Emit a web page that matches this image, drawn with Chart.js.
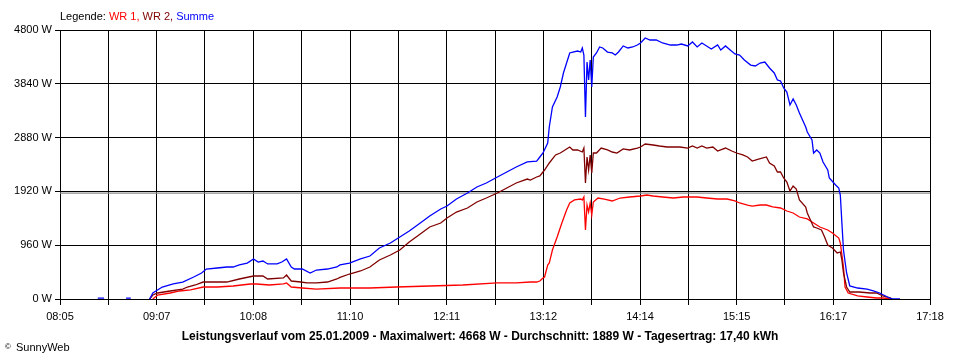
<!DOCTYPE html>
<html lang="de">
<head>
    <meta charset="UTF-8">
    <title>Leistungsverlauf 25.01.2009</title>
    <script src="https://cdn.jsdelivr.net/npm/chart.js"></script>
    <style>
        body {
            margin: 0;
            background: #fff;
        }
        canvas {
            display: block;
        }
    </style>
</head>
<body>
    <canvas id="powerChart" width="960" height="360"></canvas>

    <script>
        // x axis labels (every second grid line carries a label)
        const xTickLabels = ['08:05', '09:07', '10:08', '11:10', '12:11', '13:12', '14:14', '15:15', '16:17', '17:18'];
        const yMax = 4800;
        const yStep = 960;
        const avgValue = 1889;

        // WR 1
        const wr1Times = ['09:04', '09:07', '09:15', '09:21', '09:28', '09:36', '09:45', '09:55', '10:06', '10:10',
            '10:18', '10:27', '10:29', '10:32', '10:39', '10:48', '11:03', '11:09', '11:22', '11:39',
            '12:00', '12:21', '12:43', '12:55', '13:04', '13:08', '13:10', '13:12', '13:13', '13:15',
            '13:16', '13:18', '13:21', '13:24', '13:27', '13:29', '13:32', '13:36', '13:37', '13:38',
            '13:39', '13:40', '13:41', '13:42', '13:43', '13:44', '13:47', '13:51', '13:56', '14:01',
            '14:07', '14:14', '14:18', '14:22', '14:28', '14:35', '14:41', '14:45', '14:50', '14:56',
            '15:03', '15:09', '15:14', '15:17', '15:22', '15:25', '15:30', '15:34', '15:38', '15:43',
            '15:47', '15:51', '15:55', '16:00', '16:04', '16:08', '16:13', '16:16', '16:20', '16:21',
            '16:23', '16:24', '16:26', '16:32', '16:38', '16:44', '16:48', '16:53'];
        const wr1Watts = [0, 71, 107, 143, 161, 214, 214, 232, 268, 268,
            250, 268, 286, 214, 196, 178, 196, 196, 196, 214,
            232, 250, 286, 286, 303, 303, 321, 375, 393, 607,
            642, 874, 1106, 1356, 1588, 1713, 1767, 1784, 1767, 1820,
            1231, 1677, 1552, 1713, 1499, 1731, 1802, 1784, 1749, 1802,
            1820, 1838, 1856, 1838, 1820, 1802, 1820, 1820, 1820, 1802,
            1784, 1784, 1749, 1713, 1677, 1659, 1677, 1677, 1642, 1624,
            1570, 1535, 1463, 1428, 1356, 1285, 1231, 1178, 1088, 999,
            571, 214, 107, 54, 36, 18, 18, 0];

        // WR 2
        const wr2Times = ['09:02', '09:04', '09:07', '09:15', '09:23', '09:26', '09:31', '09:36', '09:42', '09:51',
            '09:59', '10:08', '10:14', '10:17', '10:27', '10:29', '10:32', '10:38', '10:42', '10:48',
            '10:55', '11:01', '11:03', '11:09', '11:16', '11:22', '11:28', '11:35', '11:41', '11:47',
            '11:54', '12:00', '12:07', '12:11', '12:17', '12:24', '12:30', '12:36', '12:43', '12:49',
            '12:55', '13:02', '13:04', '13:08', '13:10', '13:13', '13:16', '13:20', '13:23', '13:26',
            '13:29', '13:31', '13:34', '13:37', '13:38', '13:39', '13:40', '13:41', '13:42', '13:43',
            '13:44', '13:46', '13:49', '13:53', '13:56', '13:59', '14:03', '14:07', '14:12', '14:14',
            '14:17', '14:22', '14:26', '14:31', '14:35', '14:39', '14:44', '14:47', '14:50', '14:53',
            '14:56', '15:00', '15:03', '15:08', '15:12', '15:15', '15:19', '15:22', '15:25', '15:29',
            '15:34', '15:36', '15:39', '15:41', '15:43', '15:45', '15:47', '15:49', '15:51', '15:53',
            '15:55', '15:59', '16:00', '16:04', '16:06', '16:09', '16:11', '16:13', '16:16', '16:19',
            '16:21', '16:22', '16:23', '16:25', '16:27', '16:33', '16:40', '16:44', '16:48', '16:53',
            '16:54'];
        const wr2Watts = [0, 71, 107, 143, 178, 214, 250, 303, 303, 303,
            357, 410, 410, 357, 375, 428, 321, 303, 286, 286,
            303, 357, 385, 446, 500, 571, 696, 785, 874, 1017,
            1160, 1285, 1356, 1445, 1552, 1624, 1731, 1802, 1891, 1981,
            2070, 2141, 2123, 2177, 2195, 2302, 2427, 2570, 2605, 2659,
            2712, 2659, 2659, 2623, 2694, 2070, 2534, 2302, 2570, 2248,
            2605, 2605, 2694, 2659, 2623, 2605, 2677, 2659, 2694, 2712,
            2766, 2748, 2730, 2712, 2712, 2712, 2694, 2730, 2694, 2730,
            2694, 2712, 2641, 2694, 2641, 2605, 2570, 2534, 2462, 2498,
            2534, 2427, 2373, 2266, 2266, 2159, 2088, 1927, 2016, 1963,
            1767, 1642, 1535, 1285, 1267, 1231, 1106, 964, 910, 821,
            839, 696, 464, 214, 125, 125, 107, 107, 54, 18,
            0];

        // Summe (null = no value)
        const sumTimes = ['08:29', '08:33', '08:40', '08:47', '08:50', '08:56', '09:02', '09:04', '09:07', '09:10',
            '09:17', '09:23', '09:30', '09:35', '09:38', '09:45', '09:51', '09:55', '09:59', '10:04',
            '10:08', '10:11', '10:14', '10:17', '10:23', '10:26', '10:29', '10:32', '10:34', '10:39',
            '10:44', '10:48', '10:55', '11:01', '11:03', '11:09', '11:16', '11:22', '11:28', '11:35',
            '11:41', '11:47', '11:54', '12:00', '12:07', '12:11', '12:17', '12:24', '12:30', '12:36',
            '12:43', '12:49', '12:55', '13:02', '13:08', '13:10', '13:12', '13:15', '13:16', '13:18',
            '13:21', '13:23', '13:25', '13:27', '13:29', '13:31', '13:34', '13:36', '13:37', '13:38',
            '13:39', '13:40', '13:41', '13:42', '13:43', '13:44', '13:46', '13:48', '13:50', '13:53',
            '13:56', '13:58', '14:00', '14:03', '14:06', '14:09', '14:12', '14:14', '14:17', '14:20',
            '14:24', '14:28', '14:33', '14:37', '14:40', '14:44', '14:47', '14:50', '14:53', '14:56',
            '14:59', '15:03', '15:05', '15:08', '15:11', '15:14', '15:17', '15:20', '15:24', '15:27',
            '15:30', '15:33', '15:36', '15:39', '15:41', '15:43', '15:45', '15:47', '15:49', '15:51',
            '15:53', '15:55', '15:59', '16:00', '16:03', '16:04', '16:06', '16:08', '16:10', '16:13',
            '16:14', '16:18', '16:20', '16:21', '16:22', '16:23', '16:25', '16:27', '16:32', '16:38',
            '16:42', '16:46', '16:51', '16:54', '16:59'];
        const sumWatts = [15, 15, null, 15, 15, null, 0, 107, 161, 214,
            268, 303, 393, 464, 535, 553, 571, 571, 607, 642,
            714, 660, 678, 625, 625, 660, 714, 571, 535, 535,
            464, 517, 535, 571, 607, 642, 714, 767, 910, 999,
            1106, 1213, 1356, 1481, 1606, 1659, 1784, 1891, 1999, 2070,
            2177, 2266, 2355, 2445, 2462, 2534, 2605, 2784, 3069, 3426,
            3604, 3783, 4033, 4211, 4390, 4407, 4425, 4407, 4479, 4354,
            3248, 4229, 3908, 4265, 3783, 4318, 4390, 4497, 4479, 4407,
            4390, 4354, 4407, 4515, 4479, 4497, 4532, 4568, 4657, 4622,
            4622, 4568, 4532, 4532, 4550, 4515, 4586, 4497, 4568, 4515,
            4461, 4532, 4443, 4515, 4443, 4372, 4354, 4265, 4175, 4158,
            4211, 4229, 4122, 4033, 3908, 3890, 3765, 3694, 3462, 3569,
            3462, 3319, 3069, 2980, 2837, 2605, 2659, 2605, 2445, 2302,
            2159, 2034, 1981, 1856, 1356, 874, 464, 232, 196, 178,
            143, 107, 36, 0, 0];

        function toMin(t) {
            const parts = t.split(':');
            return parseInt(parts[0], 10) * 60 + parseInt(parts[1], 10);
        }

        function toPoints(times, watts) {
            return times.map((t, i) => ({ x: toMin(t), y: watts[i] }));
        }

        const xMin = toMin(xTickLabels[0]);
        const xMax = toMin(xTickLabels[xTickLabels.length - 1]);
        const gridCount = (xTickLabels.length - 1) * 2;
        const xGrid = Array.from({ length: gridCount + 1 }, (_, i) => xMin + (xMax - xMin) * i / gridCount);

        const fontFamily = '"Liberation Sans", Arial, sans-serif';

        // legend, title and copyright drawn as plain text
        const textPlugin = {
            id: 'sunnyText',
            afterDraw(chart) {
                const ctx = chart.ctx;
                ctx.save();
                ctx.textBaseline = 'middle';
                ctx.textAlign = 'left';
                ctx.font = '11px ' + fontFamily;
                const parts = [
                    ['Legende: ', '#000000'],
                    ['WR 1, ', '#ff0000'],
                    ['WR 2, ', '#800000'],
                    ['Summe', '#0000ff']
                ];
                let x = 60;
                parts.forEach(p => {
                    ctx.fillStyle = p[1];
                    ctx.fillText(p[0], x, 17);
                    x += ctx.measureText(p[0]).width;
                });

                ctx.fillStyle = '#000';
                ctx.font = 'bold 12px ' + fontFamily;
                ctx.textAlign = 'center';
                ctx.fillText('Leistungsverlauf vom 25.01.2009 - Maximalwert: 4668 W - Durchschnitt: 1889 W - Tagesertrag: 17,40 kWh', 480, 337);

                ctx.textAlign = 'left';
                ctx.font = '8px ' + fontFamily;
                ctx.fillText('©', 5, 347);
                ctx.font = '11px ' + fontFamily;
                ctx.fillText('SunnyWeb', 16, 348);
                ctx.restore();
            }
        };

        const ctx = document.getElementById('powerChart').getContext('2d');
        new Chart(ctx, {
            type: 'line',
            data: {
                datasets: [
                    {
                        label: 'Summe',
                        data: toPoints(sumTimes, sumWatts),
                        borderColor: '#0000ff',
                        order: 1
                    },
                    {
                        label: 'WR 2',
                        data: toPoints(wr2Times, wr2Watts),
                        borderColor: '#800000',
                        order: 2
                    },
                    {
                        label: 'WR 1',
                        data: toPoints(wr1Times, wr1Watts),
                        borderColor: '#ff0000',
                        order: 3
                    },
                    {
                        label: 'Durchschnitt',
                        data: [{ x: xMin, y: avgValue }, { x: xMax, y: avgValue }],
                        borderColor: '#8c8c8c',
                        order: 4
                    }
                ]
            },
            options: {
                responsive: false,
                animation: false,
                devicePixelRatio: 1,
                layout: {
                    padding: { top: 30, right: 30, left: 0, bottom: 0 }
                },
                elements: {
                    point: { radius: 0 },
                    line: { borderWidth: 1.3, tension: 0, fill: false }
                },
                plugins: {
                    legend: { display: false },
                    tooltip: { enabled: false }
                },
                scales: {
                    x: {
                        type: 'linear',
                        min: xMin,
                        max: xMax,
                        afterBuildTicks: s => { s.ticks = xGrid.map(v => ({ value: v })); },
                        afterFit: s => { s.height = 61; },
                        grid: { color: '#000', lineWidth: 1, tickLength: 6 },
                        border: { color: '#000' },
                        ticks: {
                            autoSkip: false,
                            maxRotation: 0,
                            padding: 5,
                            color: '#000',
                            font: { family: fontFamily, size: 11 },
                            callback: (v, i) => i % 2 === 0 ? xTickLabels[i / 2] : ''
                        }
                    },
                    y: {
                        min: 0,
                        max: yMax,
                        afterFit: s => { s.width = 60; },
                        grid: { color: '#000', lineWidth: 1, tickLength: 5 },
                        border: { color: '#000' },
                        ticks: {
                            stepSize: yStep,
                            padding: 3,
                            color: '#000',
                            font: { family: fontFamily, size: 11 },
                            callback: v => v + ' W'
                        }
                    }
                }
            },
            plugins: [textPlugin]
        });
    </script>
</body>
</html>
